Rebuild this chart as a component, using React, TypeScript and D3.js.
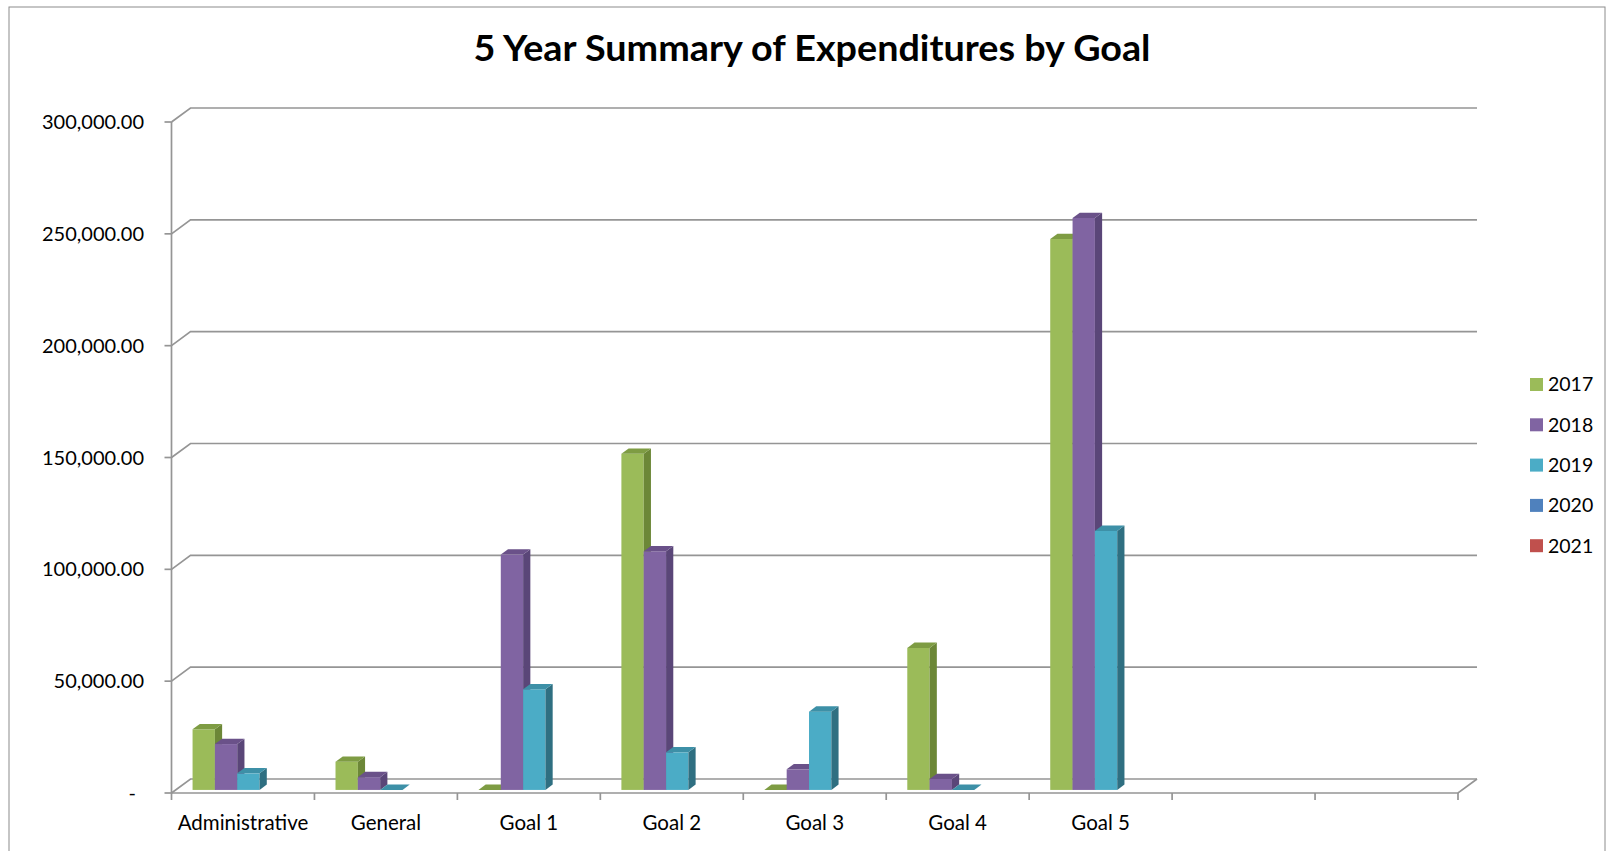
import * as d3 from 'd3';

const categories = ['Administrative', 'General', 'Goal 1', 'Goal 2', 'Goal 3', 'Goal 4', 'Goal 5', '', ''];
const years = ['2017', '2018', '2019', '2020', '2021'];
const values2017 = [27100, 12600, 0, 150300, 0, 63500, 246300, null, null];
const values2018 = [20500, 5700, 105200, 106700, 9200, 4900, 255700, null, null];
const values2019 = [7400, 0, 45000, 16800, 35000, 0, 115800, null, null];
const values2020 = [null, null, null, null, null, null, null, null, null];
const values2021 = [null, null, null, null, null, null, null, null, null];
const yTicks = [0, 50000, 100000, 150000, 200000, 250000, 300000];

const series = [values2017, values2018, values2019, values2020, values2021];
const fronts = ['#9BBB59', '#8064A2', '#4BACC6', '#4F81BD', '#C0504D'];
const sides = ['#6C8737', '#5A4678', '#2F6F81', '#365D8C', '#8B3533'];
const tops = ['#7E9C43', '#6A5189', '#3D90A7', '#4370A6', '#A3423F'];

const W = 1608;
const H = 851;
const left = 171.5;
const right = 1458;
const baseY = 793;
const topY = 122;
// depth of the 3d box and of the bars
const DX = 19;
const DY = -14;
const f0 = 0.22;
const f1 = 0.6;

const font = 'Lato, "Open Sans", sans-serif';

const App = () => {
    const x = d3.scaleBand<number>()
        .domain(categories.map((_, i) => i))
        .range([left, right])
        .paddingInner(0)
        .paddingOuter(0);

    const xs = d3.scaleBand<string>()
        .domain(years)
        .range([0, x.bandwidth()])
        .paddingInner(0)
        .paddingOuter(0.7)
        .align(0.54);

    const y = d3.scaleLinear()
        .domain([0, 300000])
        .range([baseY, topY]);

    const fmt = (v: number) => v === 0 ? '-' : d3.format(',.2f')(v);

    const pts = (p: [number, number][]) => p.map(d => d.join(',')).join(' ');

    const bars: JSX.Element[] = [];
    categories.forEach((_, ci) => {
        series.forEach((vals, si) => {
            const v = vals[ci];
            if (v === null || v === undefined) return;
            const x0 = (x(ci) as number) + (xs(years[si]) as number) + f0 * DX;
            const x1 = x0 + xs.bandwidth();
            const yb = y(0) + f0 * DY;
            const yt = y(v) + f0 * DY;
            const ddx = (f1 - f0) * DX;
            const ddy = (f1 - f0) * DY;
            bars.push(
                <g key={`${ci}-${si}`}>
                    <rect x={x0} y={yt} width={x1 - x0} height={yb - yt} fill={fronts[si]} />
                    <polygon points={pts([[x1, yt], [x1 + ddx, yt + ddy], [x1 + ddx, yb + ddy], [x1, yb]])} fill={sides[si]} />
                    <polygon points={pts([[x0, yt], [x0 + ddx, yt + ddy], [x1 + ddx, yt + ddy], [x1, yt]])} fill={tops[si]} />
                </g>
            );
        });
    });

    const gridColor = '#959595';

    return (
        <svg width={W} height={H} style={{ position: 'absolute', left: 0, top: 0, background: '#fff' }}>
            <rect x={9} y={7} width={1596} height={900} fill="#fff" stroke="#8c8c8c" strokeWidth={1} />

            <text x={812} y={61} textAnchor="middle" fontFamily={font} fontWeight="bold" fontSize={36}
                textLength={677} lengthAdjust="spacingAndGlyphs" fill="#000">
                5 Year Summary of Expenditures by Goal
            </text>

            {/* back wall gridlines */}
            {yTicks.map(t => (
                <polyline key={t} fill="none" stroke={gridColor} strokeWidth={1.7}
                    points={pts([[left, y(t)], [left + DX, y(t) + DY], [right + DX, y(t) + DY]])} />
            ))}

            {/* floor */}
            <polyline fill="none" stroke={gridColor} strokeWidth={1.7}
                points={pts([[left, baseY], [right, baseY], [right + DX, baseY + DY]])} />

            {/* value axis */}
            <line x1={left} x2={left} y1={topY} y2={baseY} stroke={gridColor} strokeWidth={1.7} />
            {yTicks.map(t => (
                <g key={`yt${t}`}>
                    <line x1={left - 7} x2={left} y1={y(t)} y2={y(t)} stroke={gridColor} strokeWidth={1.7} />
                    <text x={t === 0 ? 136 : 144} y={y(t)} dy="0.35em" textAnchor="end" fontFamily={font} fontSize={20} fill="#000">
                        {fmt(t)}
                    </text>
                </g>
            ))}

            {/* category axis */}
            {d3.range(categories.length + 1).map(i => {
                const xp = left + i * x.step();
                return <line key={`ct${i}`} x1={xp} x2={xp} y1={baseY} y2={baseY + 7} stroke={gridColor} strokeWidth={1.7} />;
            })}
            {categories.map((c, i) => (
                <text key={`cl${i}`} x={(x(i) as number) + x.bandwidth() / 2} y={830} textAnchor="middle"
                    fontFamily={font} fontSize={20.5} fill="#000">{c}</text>
            ))}

            {bars}

            {/* legend */}
            {years.map((yr, i) => {
                const cy = 384.5 + i * 40.3;
                return (
                    <g key={yr}>
                        <rect x={1530} y={cy - 6.5} width={13} height={13} fill={fronts[i]} />
                        <text x={1548} y={cy} dy="0.35em" fontFamily={font} fontSize={19.5} fill="#000">{yr}</text>
                    </g>
                );
            })}
        </svg>
    );
};

export default App;
